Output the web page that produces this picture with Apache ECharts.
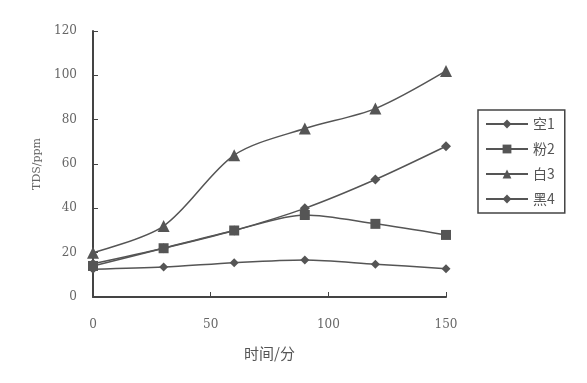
<!DOCTYPE html>
<html><head><meta charset="utf-8">
<script src="https://cdn.jsdelivr.net/npm/echarts@6/dist/echarts.min.js"></script>
<style>html,body{margin:0;padding:0;background:#fff}#c{width:587px;height:383px}</style>
</head><body><div id="c"></div>
<script>
const times = [0, 30, 60, 90, 120, 150];
const seriesNames = ['空1', '粉2', '白3', '黑4'];
const s1 = [15, 22, 30, 40, 53, 68];
const s2 = [14, 22, 30, 37, 33, 28];
const s3 = [20, 32, 64, 76, 85, 102];
const s4 = [12.5, 13.5, 15.5, 16.7, 14.8, 12.8];
const yTicks = [0, 20, 40, 60, 80, 100, 120];
const xTicks = [0, 50, 100, 150];

const col = '#555';
const symbols = ['diamond', 'rect', 'triangle', 'diamond'];
const sizes = [10, 10, 12, 9];
const data = [s1, s2, s3, s4];
const chart = echarts.init(document.getElementById('c'));
chart.setOption({
  animation: false,
  backgroundColor: '#fff',
  textStyle: {fontFamily: 'DejaVu Serif, Noto Sans CJK SC'},
  grid: {left: 93, right: 141, top: 31, bottom: 86},
  xAxis: {
    type: 'value', min: xTicks[0], max: xTicks[xTicks.length-1], interval: 50,
    name: '时间/分', nameLocation: 'middle', nameGap: 49,
    nameTextStyle: {fontSize: 15, color: '#555', fontFamily: 'Noto Sans CJK SC'},
    axisLine: {lineStyle: {color: '#444', width: 2}},
    axisTick: {inside: true, length: 5, lineStyle: {color: '#444'}},
    axisLabel: {margin: 22, fontSize: 12, color: '#666'},
    splitLine: {show: false}
  },
  yAxis: {
    type: 'value', min: yTicks[0], max: yTicks[yTicks.length-1], interval: 20,
    name: 'TDS/ppm', nameLocation: 'middle', nameGap: 50, nameRotate: 90,
    nameTextStyle: {fontSize: 11, color: '#666'},
    axisLine: {show: true, lineStyle: {color: '#444', width: 2}},
    axisTick: {show: true, inside: true, length: 5, lineStyle: {color: '#444'}},
    axisLabel: {margin: 16, fontSize: 12, color: '#666'},
    splitLine: {show: false}
  },
  legend: {
    orient: 'vertical', left: 478, top: 110,
    borderColor: '#444', borderWidth: 1.5, padding: [7, 10, 7, 7],
    itemWidth: 42, itemHeight: 11, itemGap: 11,
    textStyle: {fontSize: 14, color: '#555', fontFamily: 'Noto Sans CJK SC'},
    data: seriesNames
  },
  series: seriesNames.map((n, i) => ({
    name: n, type: 'line', smooth: 0.3,
    data: times.map((t, j) => [t, data[i][j]]),
    symbol: symbols[i], symbolSize: sizes[i],
    itemStyle: {color: col},
    lineStyle: {color: col, width: 1.5}
  }))
});
</script></body></html>
